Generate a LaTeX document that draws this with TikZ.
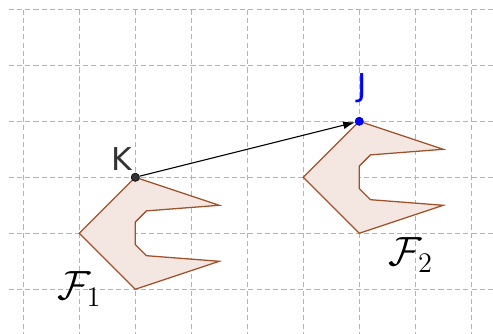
\documentclass[tikz,border=0pt]{standalone}
\usepackage{amsmath,amssymb}
\usepackage{fontspec}
\newfontfamily\ptfont{DejaVu Sans}
\usetikzlibrary{positioning,arrows.meta}
\definecolor{gridgray}{HTML}{B4B4B4}
\definecolor{ink}{HTML}{333333}
\definecolor{vecblue}{HTML}{0000FF}
\definecolor{polybrown}{HTML}{A0522D}
\definecolor{polyfill}{HTML}{F4E6E1}

\begin{document}
\begin{tikzpicture}[
  gridline/.style = {draw=gridgray, line width=0.5pt, dash pattern=on 2.6pt off 1.6pt},
  poly/.style     = {draw=polybrown, line width=0.65pt, fill=polyfill, line join=miter},
  pt/.style       = {circle, inner sep=0pt, minimum size=4.2pt, line width=0.3pt},
  ptlabel/.style  = {font=\fontsize{16}{18}\selectfont\ptfont, inner sep=0pt, anchor=base},
  figlabel/.style = {font=\fontsize{22}{26}\selectfont, inner sep=0pt, anchor=base},
  vec/.style      = {-{Latex[length=6pt,width=4pt]}, draw=black, line width=0.55pt},
]
\useasboundingbox (-0.416,-0.798) rectangle (8.388,5.166);

\begin{scope}
  \clip (-0.29,-0.9) rectangle (8.5,5.02);
  \draw[gridline] (-1,-1) grid (9,5);
\end{scope}

\coordinate (K) at (2,2);
\coordinate (J) at (6,3);

% F1 and its image F2
\draw[poly] (K) -- (3.5,1.5) -- (2.2,1.4) -- (2,1.2) -- (2,0.8) -- (2.2,0.6)
  -- (3.5,0.5) -- (2,0) -- (1,1) -- cycle;
\draw[poly] (J) -- (7.5,2.5) -- (6.2,2.4) -- (6,2.2) -- (6,1.8) -- (6.2,1.6)
  -- (7.5,1.5) -- (6,1) -- (5,2) -- cycle;

\node[pt, fill=ink, draw=black] (Kpt) at (K) {};
\node[pt, fill=vecblue, draw=vecblue!60!black] (Jpt) at (J) {};

\draw[vec] (Kpt) -- (Jpt);

\node[ptlabel, text=ink] (Klabel) at (1.765,2.118) {K};
\node[ptlabel, text=vecblue] (Jlabel) at (6.05,3.434) {J};

\node[figlabel] (F1label) at (1.0,-0.19) {$\mathcal{F}_1$};
\node[figlabel] (F2label) at (6.92,0.416) {$\mathcal{F}_2$};

\end{tikzpicture}
\end{document}
